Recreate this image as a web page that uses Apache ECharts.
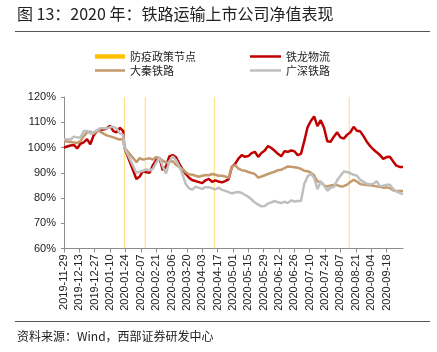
<!DOCTYPE html>
<html>
<head>
<meta charset="utf-8">
<script src="https://cdn.jsdelivr.net/npm/echarts@6/dist/echarts.min.js"></script>
<style>
  html, body { margin: 0; padding: 0; background: #fff; }
  #chart { width: 437px; height: 352px; }
</style>
</head>
<body>
<div id="chart"></div>
<script>
// 横轴：2019-11-29 到 2020-10-03 的自然日，每 14 天一个刻度
const axisStart = '2019-11-29'
const axisEnd = '2020-10-03'

// 防疫政策节点
const policyDates = ['2020-01-23', '2020-02-11', '2020-04-14', '2020-08-15']

// 采样日期（净值 %，2020-01-23 = 100%）
const sampleDates = [
  '2019-11-29','2019-12-02','2019-12-05','2019-12-08','2019-12-11','2019-12-14','2019-12-17','2019-12-20','2019-12-23','2019-12-26',
  '2019-12-29','2020-01-01','2020-01-04','2020-01-07','2020-01-10','2020-01-13','2020-01-16','2020-01-19','2020-01-22','2020-01-23',
  '2020-02-03','2020-02-06','2020-02-09','2020-02-12','2020-02-15','2020-02-18','2020-02-21','2020-02-24','2020-02-27','2020-03-01',
  '2020-03-04','2020-03-07','2020-03-10','2020-03-13','2020-03-16','2020-03-19','2020-03-22','2020-03-25','2020-03-28','2020-03-31',
  '2020-04-03','2020-04-06','2020-04-09','2020-04-12','2020-04-15','2020-04-18','2020-04-21','2020-04-24','2020-04-27','2020-04-30',
  '2020-05-03','2020-05-06','2020-05-09','2020-05-12','2020-05-15','2020-05-18','2020-05-21','2020-05-24','2020-05-27','2020-05-30',
  '2020-06-02','2020-06-05','2020-06-08','2020-06-11','2020-06-14','2020-06-17','2020-06-20','2020-06-23','2020-06-26','2020-06-29',
  '2020-07-02','2020-07-05','2020-07-08','2020-07-11','2020-07-14','2020-07-17','2020-07-20','2020-07-23','2020-07-26','2020-07-29',
  '2020-08-01','2020-08-04','2020-08-07','2020-08-10','2020-08-13','2020-08-16','2020-08-19','2020-08-22','2020-08-25','2020-08-28','2020-08-31',
  '2020-09-03','2020-09-06','2020-09-09','2020-09-12','2020-09-15','2020-09-18','2020-09-21','2020-09-24','2020-09-27','2020-09-30','2020-10-03'
]

// 铁龙物流
const tielong = [
  100.0,100.4,100.8,101.0,99.6,101.5,102.0,103.3,101.3,104.8,
  106.5,107.0,107.1,107.5,108.6,106.5,106.0,107.8,106.5,100.0,
  87.5,88.5,90.7,90.2,90.0,93.0,95.0,96.0,91.0,92.5,
  96.5,97.0,96.2,93.6,91.3,89.5,88.0,87.0,86.7,86.3,
  85.9,87.0,87.6,86.4,87.0,86.5,86.2,86.7,87.5,92.3,
  93.5,95.6,97.0,96.3,96.6,97.8,98.3,96.3,97.8,98.8,
  100.6,99.8,98.7,97.5,96.5,98.5,98.3,98.8,98.5,97.0,
  97.5,102.5,108.0,110.5,112.3,108.5,110.8,107.8,102.5,102.3,
  104.3,106.0,104.0,103.5,105.0,106.0,108.2,106.6,106.4,104.5,102.3,
  100.6,99.2,98.1,97.0,95.5,96.2,96.3,94.5,92.8,92.3,92.3
]

// 大秦铁路
const daqin = [
  102.5,102.4,102.2,102.0,101.8,102.5,104.5,106.0,106.2,105.4,
  106.8,106.3,105.5,104.8,104.4,104.0,103.5,103.2,103.4,100.0,
  94.2,95.8,95.2,95.5,95.7,95.2,96.2,95.8,94.8,94.0,
  94.2,94.6,93.2,92.3,91.5,90.2,89.4,89.2,88.8,88.4,
  88.8,89.1,89.0,89.5,89.2,88.8,88.8,88.5,88.0,92.3,
  93.0,91.6,91.0,90.8,90.3,89.9,89.5,88.1,88.5,89.0,
  89.5,90.0,90.4,91.0,91.2,91.8,92.5,92.4,92.2,92.0,
  91.5,90.8,90.6,90.0,89.0,86.5,86.4,85.0,84.5,85.0,
  85.2,85.1,84.6,84.7,85.3,86.3,87.2,86.5,85.5,85.3,85.1,
  85.0,84.8,84.6,84.4,84.1,84.2,83.9,83.1,82.8,82.8,82.8
]

// 广深铁路
const guangshen = [
  103.3,103.3,103.2,104.3,104.0,104.0,106.5,106.5,105.5,106.0,
  106.8,107.6,107.6,107.5,108.0,108.2,107.6,105.6,105.0,100.0,
  90.0,90.4,90.8,91.3,91.0,91.5,93.9,96.0,92.5,89.7,
  94.5,96.5,95.0,92.5,89.5,85.5,83.8,83.3,84.5,84.0,
  83.6,84.3,84.3,83.8,83.4,84.1,83.2,82.8,82.3,81.8,
  82.2,82.4,82.0,81.2,80.5,79.4,78.2,77.4,76.7,76.8,
  77.8,78.3,78.8,78.3,78.0,78.5,78.0,79.0,78.6,78.8,
  78.8,85.5,88.5,89.6,88.0,83.5,86.5,85.0,82.9,84.0,
  84.4,87.0,88.8,90.5,90.3,89.8,89.2,88.8,87.2,86.4,85.6,
  85.4,85.6,86.7,84.6,84.9,85.2,85.2,83.6,82.6,82.0,81.5
]

const cnFont = '"Noto Sans CJK SC", sans-serif'
const numFont = '"Liberation Sans", Arial, sans-serif'
const axisColor = '#8c8c8c'
const textColor = '#222'

// 生成横轴的每一天
const buildDays = (a, b) => {
  const out = []
  let t = Date.parse(a + 'T00:00:00Z')
  const end = Date.parse(b + 'T00:00:00Z')
  while (t <= end) {
    out.push(new Date(t).toISOString().slice(0, 10))
    t += 86400000
  }
  return out
}
const axisDays = buildDays(axisStart, axisEnd)

const pairs = (values) => sampleDates.map((d, i) => [d, values[i]])

const legendBase = {
  padding: 0,
  itemGap: 0,
  itemWidth: 31,
  itemHeight: 2.5,
  icon: 'rect',
  itemStyle: { borderWidth: 0 },
  textStyle: { fontSize: 11, fontFamily: cnFont, color: textColor, padding: [0, 0, 0, 0] }
}

const chart = echarts.init(document.getElementById('chart'))

const option = {
  animation: false,
  backgroundColor: '#fff',
  graphic: [
    {
      type: 'text', left: 17, top: 6,
      style: { text: '图 13：2020 年：铁路运输上市公司净值表现', font: '16px ' + cnFont, fill: textColor }
    },
    { type: 'line', shape: { x1: 15, y1: 31.5, x2: 430, y2: 31.5 }, style: { stroke: '#555', lineWidth: 1 } },
    { type: 'line', shape: { x1: 15, y1: 321.5, x2: 430, y2: 321.5 }, style: { stroke: '#555', lineWidth: 1 } },
    {
      type: 'text', left: 17, top: 330,
      style: { text: '资料来源：Wind，西部证券研发中心', font: '12px ' + cnFont, fill: textColor }
    }
  ],
  legend: [
    Object.assign({}, legendBase, {
      data: [{ name: '防疫政策节点', itemStyle: { color: '#FFC000' } }],
      left: 95, top: 51, itemWidth: 30, itemHeight: 4.5
    }),
    Object.assign({}, legendBase, { data: ['铁龙物流'], left: 250, top: 51 }),
    Object.assign({}, legendBase, { data: ['大秦铁路'], left: 95, top: 65, itemWidth: 30 }),
    Object.assign({}, legendBase, { data: ['广深铁路'], left: 250, top: 65 })
  ],
  grid: { left: 64, right: 34, top: 97, bottom: 103.5 },
  xAxis: {
    type: 'category',
    data: axisDays,
    boundaryGap: false,
    axisLine: { lineStyle: { color: axisColor } },
    axisTick: { interval: 13, length: 4, lineStyle: { color: axisColor } },
    axisLabel: {
      interval: 13, rotate: 90, margin: 6, fontSize: 11,
      fontFamily: numFont, color: textColor, showMaxLabel: false
    },
    splitLine: { show: false }
  },
  yAxis: {
    type: 'value',
    min: 60, max: 120, interval: 10,
    axisLine: { show: true, lineStyle: { color: axisColor } },
    axisTick: { show: true, length: 3, lineStyle: { color: axisColor } },
    axisLabel: { formatter: '{value}%', fontSize: 11, fontFamily: numFont, color: textColor, margin: 8 },
    splitLine: { show: false }
  },
  series: [
    {
      name: '防疫政策节点',
      type: 'bar',
      barWidth: 1,
      silent: true,
      color: '#FFC000',
      itemStyle: { color: 'rgba(255, 192, 0, 0.55)' },
      data: policyDates.map(d => [d, 120])
    },
    {
      name: '铁龙物流', type: 'line', symbol: 'none', silent: true,
      color: '#C00000', lineStyle: { color: '#C00000', width: 2.5 },
      data: pairs(tielong)
    },
    {
      name: '大秦铁路', type: 'line', symbol: 'none', silent: true,
      color: '#C49A6C', lineStyle: { color: '#C49A6C', width: 2.5 },
      data: pairs(daqin)
    },
    {
      name: '广深铁路', type: 'line', symbol: 'none', silent: true,
      color: '#BFBFBF', lineStyle: { color: '#BFBFBF', width: 2.5 },
      data: pairs(guangshen)
    }
  ]
}

chart.setOption(option)
</script>
</body>
</html>
